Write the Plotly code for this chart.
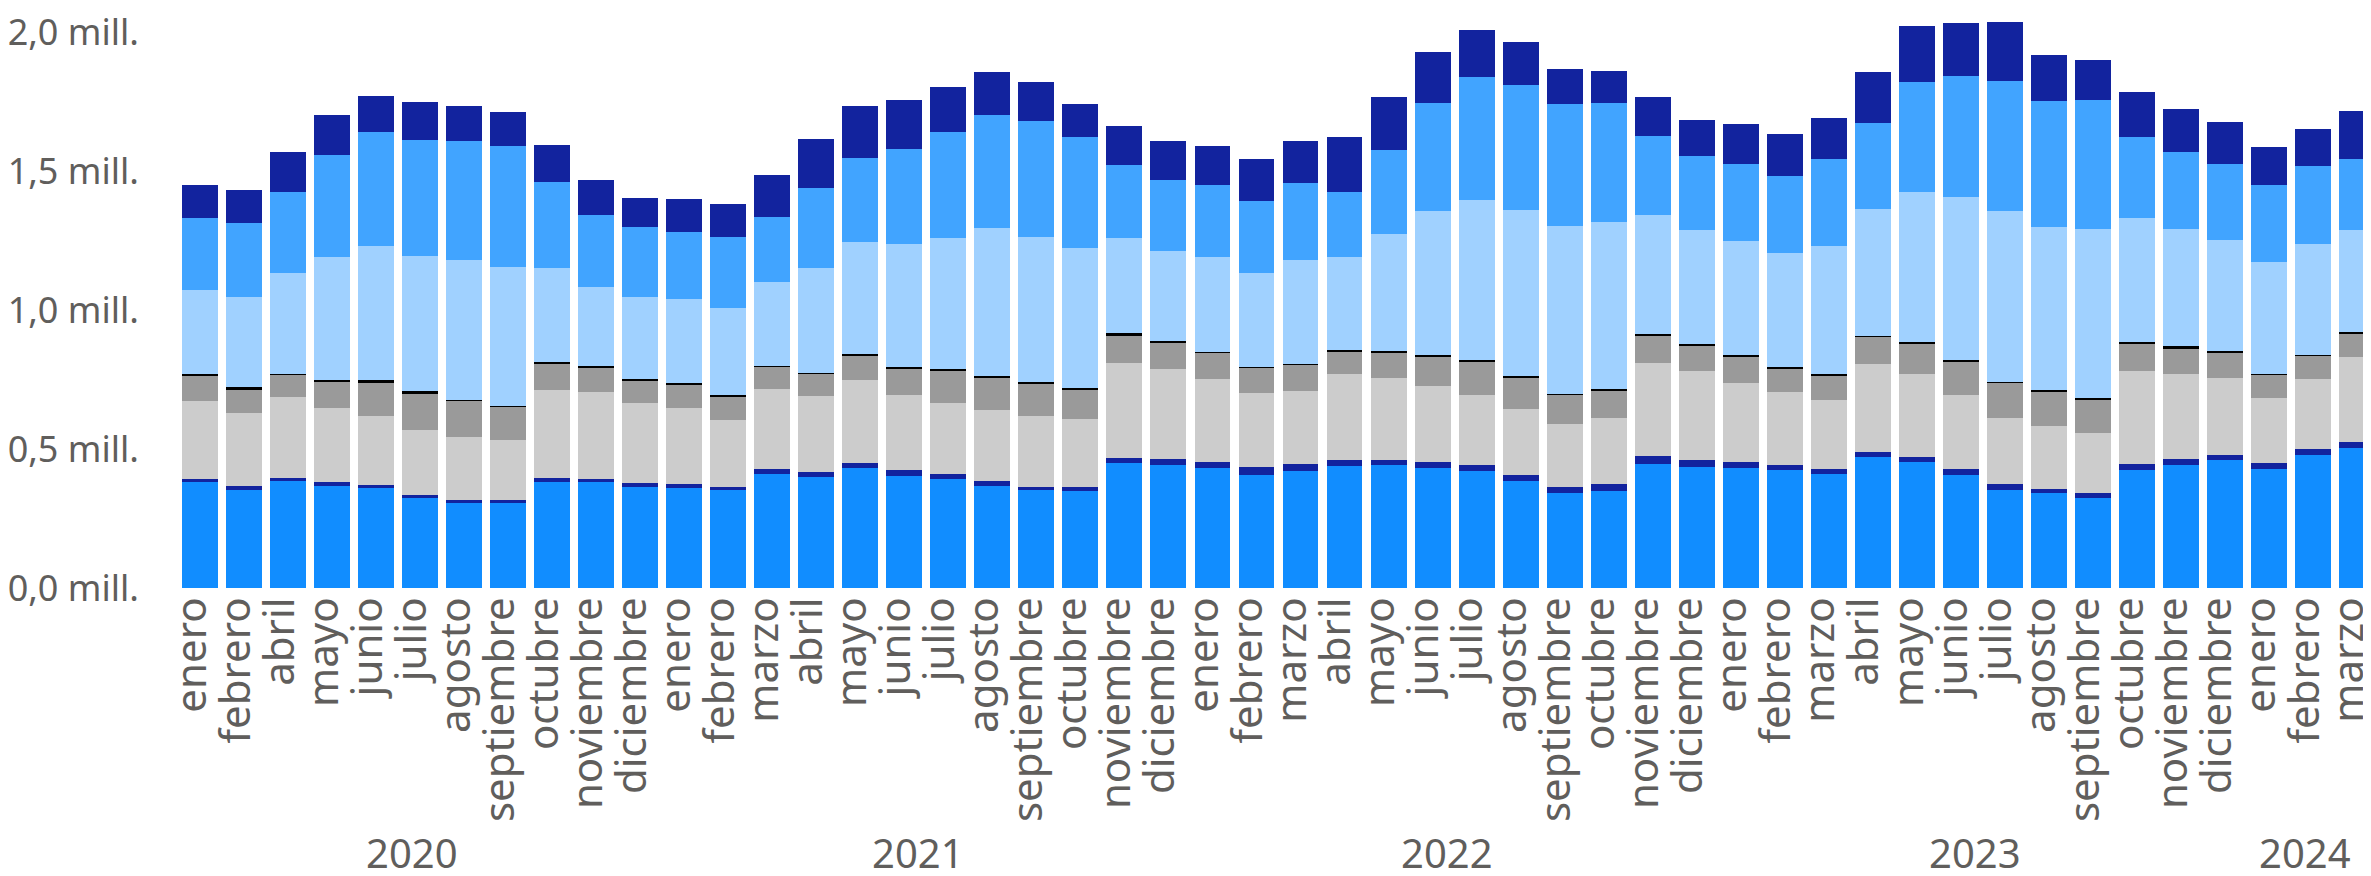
import plotly.graph_objects as go

# --- categories ---
months = [
    "enero", "febrero", "abril", "mayo", "junio", "julio", "agosto", "septiembre", "octubre", "noviembre", "diciembre",
    "enero", "febrero", "marzo", "abril", "mayo", "junio", "julio", "agosto", "septiembre", "octubre", "noviembre", "diciembre",
    "enero", "febrero", "marzo", "abril", "mayo", "junio", "julio", "agosto", "septiembre", "octubre", "noviembre", "diciembre",
    "enero", "febrero", "marzo", "abril", "mayo", "junio", "julio", "agosto", "septiembre", "octubre", "noviembre", "diciembre",
    "enero", "febrero", "marzo",
]
years = ["2020"] * 11 + ["2021"] * 12 + ["2022"] * 12 + ["2023"] * 12 + ["2024"] * 3

# --- series values (millions), bottom to top ---
s1 = [0.381, 0.352, 0.385, 0.366, 0.359, 0.323, 0.306, 0.306, 0.381, 0.381,
      0.365, 0.362, 0.352, 0.412, 0.401, 0.433, 0.405, 0.394, 0.369, 0.352,
      0.348, 0.451, 0.444, 0.433, 0.408, 0.423, 0.440, 0.444, 0.433, 0.423,
      0.386, 0.343, 0.348, 0.447, 0.436, 0.433, 0.425, 0.412, 0.472, 0.455,
      0.408, 0.354, 0.341, 0.326, 0.425, 0.444, 0.462, 0.429, 0.479, 0.504]
s2 = [0.013, 0.014, 0.013, 0.015, 0.011, 0.011, 0.011, 0.011, 0.017, 0.013,
      0.015, 0.014, 0.013, 0.017, 0.018, 0.018, 0.020, 0.018, 0.015, 0.013,
      0.017, 0.017, 0.022, 0.022, 0.028, 0.024, 0.022, 0.018, 0.022, 0.021,
      0.022, 0.022, 0.025, 0.029, 0.026, 0.022, 0.019, 0.017, 0.018, 0.017,
      0.021, 0.019, 0.017, 0.017, 0.022, 0.022, 0.017, 0.022, 0.021, 0.022]
s3 = [0.279, 0.264, 0.290, 0.267, 0.249, 0.235, 0.227, 0.216, 0.314, 0.311,
      0.286, 0.271, 0.239, 0.289, 0.271, 0.299, 0.269, 0.256, 0.256, 0.254,
      0.243, 0.344, 0.324, 0.299, 0.268, 0.264, 0.310, 0.296, 0.271, 0.252,
      0.236, 0.225, 0.239, 0.336, 0.318, 0.284, 0.263, 0.250, 0.318, 0.300,
      0.265, 0.239, 0.224, 0.215, 0.333, 0.306, 0.279, 0.235, 0.254, 0.306]
s4 = [0.094, 0.086, 0.081, 0.096, 0.123, 0.132, 0.133, 0.120, 0.097, 0.090,
      0.083, 0.086, 0.086, 0.080, 0.082, 0.086, 0.096, 0.116, 0.118, 0.118,
      0.107, 0.099, 0.093, 0.093, 0.089, 0.093, 0.079, 0.089, 0.107, 0.120,
      0.114, 0.106, 0.099, 0.095, 0.092, 0.094, 0.083, 0.086, 0.098, 0.108,
      0.122, 0.127, 0.125, 0.121, 0.099, 0.089, 0.089, 0.083, 0.083, 0.083]
s5 = [0.005, 0.007, 0.003, 0.006, 0.006, 0.007, 0.002, 0.003, 0.004, 0.003,
      0.005, 0.004, 0.004, 0.003, 0.004, 0.007, 0.007, 0.004, 0.007, 0.006,
      0.007, 0.007, 0.007, 0.004, 0.004, 0.004, 0.006, 0.006, 0.007, 0.005,
      0.007, 0.004, 0.007, 0.008, 0.007, 0.007, 0.007, 0.007, 0.002, 0.006,
      0.004, 0.004, 0.008, 0.007, 0.007, 0.011, 0.006, 0.003, 0.004, 0.007]
s6 = [0.303, 0.325, 0.364, 0.444, 0.484, 0.488, 0.504, 0.502, 0.341, 0.288,
      0.293, 0.303, 0.316, 0.302, 0.378, 0.403, 0.441, 0.472, 0.531, 0.521,
      0.503, 0.342, 0.324, 0.342, 0.338, 0.374, 0.336, 0.422, 0.517, 0.578,
      0.598, 0.603, 0.600, 0.428, 0.410, 0.409, 0.411, 0.460, 0.459, 0.542,
      0.590, 0.614, 0.586, 0.606, 0.447, 0.420, 0.400, 0.404, 0.397, 0.368]
s7 = [0.258, 0.267, 0.292, 0.367, 0.411, 0.418, 0.427, 0.434, 0.307, 0.256,
      0.253, 0.241, 0.254, 0.232, 0.288, 0.304, 0.344, 0.382, 0.407, 0.417,
      0.399, 0.264, 0.254, 0.260, 0.260, 0.278, 0.235, 0.303, 0.389, 0.443,
      0.450, 0.439, 0.428, 0.285, 0.267, 0.279, 0.277, 0.314, 0.307, 0.395,
      0.435, 0.470, 0.452, 0.467, 0.291, 0.279, 0.275, 0.277, 0.282, 0.256]
s8 = [0.117, 0.120, 0.144, 0.142, 0.128, 0.135, 0.125, 0.122, 0.135, 0.126,
      0.106, 0.122, 0.121, 0.153, 0.175, 0.188, 0.177, 0.164, 0.157, 0.142,
      0.118, 0.142, 0.142, 0.140, 0.151, 0.150, 0.196, 0.192, 0.185, 0.167,
      0.154, 0.128, 0.118, 0.142, 0.129, 0.142, 0.149, 0.146, 0.186, 0.200,
      0.189, 0.211, 0.167, 0.144, 0.161, 0.153, 0.149, 0.136, 0.133, 0.171]

series = [s1, s2, s3, s4, s5, s6, s7, s8]
names = ["Serie 1", "Serie 2", "Serie 3", "Serie 4", "Serie 5", "Serie 6", "Serie 7", "Serie 8"]
colors = ["#118DFF", "#12239E", "#CCCCCC", "#9A9A9A", "#000000", "#A0D1FF", "#41A4FF", "#12239E"]

y_ticks = [0, 0.5, 1.0, 1.5, 2.0]
y_tick_labels = ["0,0 mill.", "0,5 mill.", "1,0 mill.", "1,5 mill.", "2,0 mill."]
year_labels = ["2020", "2021", "2022", "2023", "2024"]

FONT = "Segoe UI, Noto Sans, Open Sans, sans-serif"
TXT = "#605E5C"
LABEL_SHIFT = -0.18  # small leftward nudge of category labels, as in the reference

x = list(range(len(months)))

fig = go.Figure()
for vals, nm, col in zip(series, names, colors):
    fig.add_trace(go.Bar(x=x, y=vals, name=nm, marker=dict(color=col, line=dict(width=0))))

# year group labels centred under each group
for yr in year_labels:
    idx = [i for i, v in enumerate(years) if v == yr]
    fig.add_annotation(x=(idx[0] + idx[-1]) / 2 + LABEL_SHIFT, y=-0.46, xref="x", yref="paper",
                       text=yr, showarrow=False, yanchor="middle",
                       font=dict(family=FONT, size=40, color=TXT))

fig.update_layout(
    barmode="stack",
    bargap=0.184,
    width=2371, height=876,
    margin=dict(l=167, r=0, t=0, b=296),
    plot_bgcolor="white", paper_bgcolor="white",
    showlegend=False,
    font=dict(family=FONT, color=TXT),
)
fig.update_xaxes(
    tickmode="array", tickvals=[v + LABEL_SHIFT for v in x], ticktext=months, tickangle=-90,
    tickfont=dict(family=FONT, size=42, color=TXT),
    showgrid=False, zeroline=False, showline=False,
    range=[-0.5, len(months) - 0.5],
    ticklabeloverflow="allow",
)
fig.update_yaxes(
    tickmode="array", tickvals=y_ticks, ticktext=y_tick_labels,
    tickfont=dict(family=FONT, size=36, color=TXT),
    showgrid=False, zeroline=False, showline=False,
    range=[0, 2.0677], ticklabelstandoff=38,
    ticklabeloverflow="allow",
)

fig.write_html("out.html")
